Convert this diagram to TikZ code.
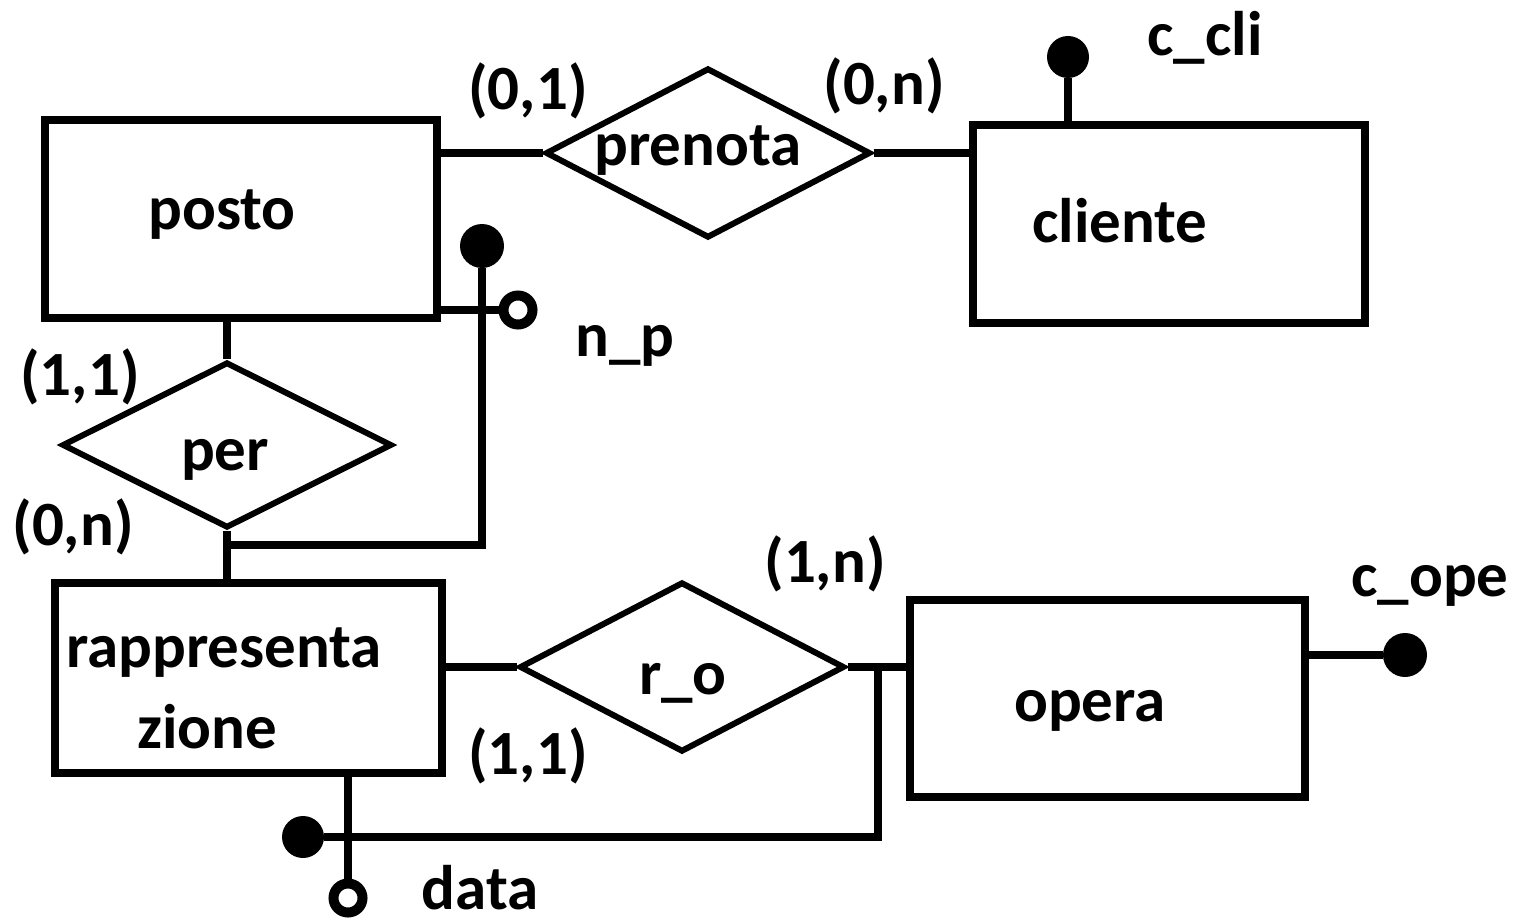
\documentclass[tikz,border=0pt]{standalone}
\usepackage{fontspec}
\setmainfont{Carlito}
\usetikzlibrary{shapes.geometric}
\begin{document}
\begin{tikzpicture}[x=1pt,y=-1pt,
  every node/.style={font=\fontsize{63}{70}\selectfont\bfseries},
  ent/.style={draw, line width=8pt, inner sep=0pt},
  rel/.style={diamond, draw, line width=6pt, inner sep=0pt},
  conn/.style={line width=8pt},
  keyattr/.style={circle, fill, inner sep=0pt, minimum size=44pt},
  plainattr/.style={circle, draw, line width=10pt, inner sep=0pt, minimum size=29pt},
  card/.style={inner sep=0pt}]
\useasboundingbox (0,0) rectangle (1515,923);
% entities
\node[ent, minimum width=392pt, minimum height=198pt, label={[shift={(-19,-4)}]center:posto}] (posto) at (241,219) {};
\node[ent, minimum width=392pt, minimum height=198pt, label={[shift={(-49,-3)}]center:cliente}] (cliente) at (1169,224) {};
\node[ent, minimum width=387pt, minimum height=190pt,
  label={[shift={(-24,-25)}]center:rappresenta},
  label={[shift={(-41,49)}]center:zione}] (rapp) at (248,678) {};
\node[ent, minimum width=395pt, minimum height=197pt, label={[shift={(-17,13)}]center:opera}] (opera) at (1107,698) {};
% relationships
\node[rel, minimum width=325pt, minimum height=170pt, label={[shift={(-10,-2)}]center:prenota}] (prenota) at (708,153) {};
\node[rel, minimum width=330pt, minimum height=166pt, label={[shift={(-2,15)}]center:per}] (per) at (227,445) {};
\node[rel, minimum width=325pt, minimum height=170pt, label={[shift={(1,16)}]center:r\_o}] (ro) at (682,667) {};
% attributes
\node[keyattr, minimum size=42pt] (ccli) at (1068,57) {};
\node[keyattr] (idp) at (482,246) {};
\node[plainattr] (np) at (518,310) {};
\node[keyattr] (cope) at (1405,655) {};
\node[keyattr, minimum size=42pt] (idr) at (303,837) {};
\node[plainattr] (data) at (348,898) {};
\coordinate (j1) at (230,545);
\coordinate (j2) at (878,667);
% connectors
\draw[conn] (prenota.west -| posto.east) -- (prenota.west);
\draw[conn] (prenota.east) -- (prenota.east -| cliente.west);
\draw[conn] (ccli) -- (ccli |- cliente.north);
\draw[conn] (per.north |- posto.south) -- (per.north);
\draw[conn] (per.south) -- (per.south |- rapp.north);
\draw[conn] (j1) -| (idp);
\draw[conn] (np -| posto.east) -- (np);
\draw[conn] (rapp.east |- ro.west) -- (ro.west);
\draw[conn] (ro.east) -- (ro.east -| opera.west);
\draw[conn] (cope -| opera.east) -- (cope);
\draw[conn] (j2) |- (idr);
\draw[conn] (data |- rapp.south) -- (data);
% labels
\node[card] (l1) at (528,91) {(0,1)};
\node[card] (l2) at (884,86) {(0,n)};
\node[card] (l3) at (1205,38) {c\_cli};
\node[card] (l4) at (625,346) {n\_p};
\node[card] (l5) at (80,377) {(1,1)};
\node[card] (l6) at (73,527) {(0,n)};
\node[card] (l7) at (825,564) {(1,n)};
\node[card] (l8) at (1430,586) {c\_ope};
\node[card] (l9) at (528,756) {(1,1)};
\node[card] (l10) at (480,888) {data};
\end{tikzpicture}
\end{document}
